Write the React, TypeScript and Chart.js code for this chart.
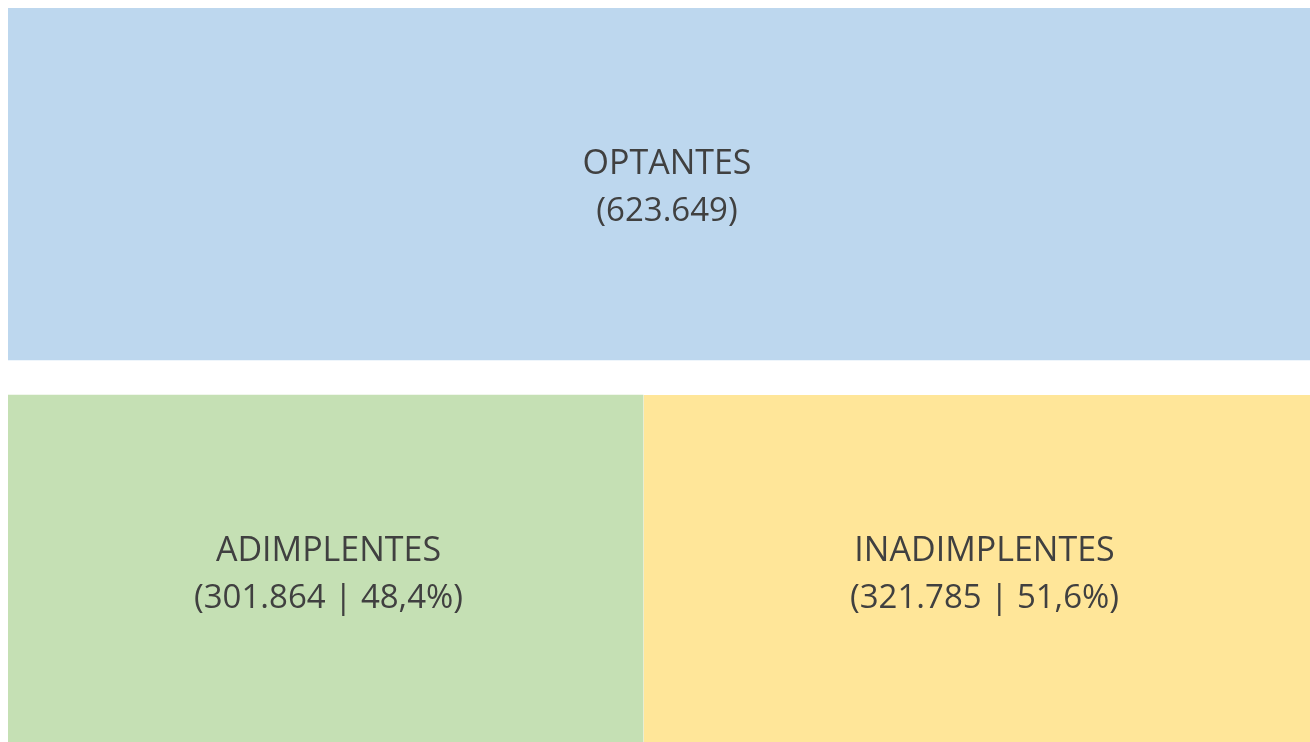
import React, { useEffect, useRef } from "react";
import { Chart, registerables } from "chart.js";

Chart.register(...registerables);

const rowLabels = ["OPTANTES", "ADIMPLENTES | INADIMPLENTES"];
const optantes = [623649, null];
const adimplentes = [null, 301864];
const inadimplentes = [null, 321785];
const segmentNames = ["OPTANTES", "ADIMPLENTES", "INADIMPLENTES"];
const total = 623649;

const fmtInt = (v: number) => v.toLocaleString("pt-BR");
const fmtPct = (v: number) =>
  (v * 100).toLocaleString("pt-BR", { minimumFractionDigits: 1, maximumFractionDigits: 1 }) + "%";

const labelPlugin = {
  id: "boxLabels",
  afterDatasetsDraw(chart: any) {
    const ctx = chart.ctx;
    const area = chart.chartArea;
    ctx.save();
    ctx.fillStyle = "#404040";
    ctx.textAlign = "center";
    ctx.textBaseline = "middle";
    chart.data.datasets.forEach((ds: any, di: number) => {
      const meta = chart.getDatasetMeta(di);
      meta.data.forEach((el: any, i: number) => {
        const v = ds.data[i];
        if (v == null) return;
        const p = el.getProps(["x", "y", "base", "height"], true);
        const top = Math.max(p.y - p.height / 2, area.top);
        const bottom = Math.min(p.y + p.height / 2, area.bottom);
        const cx = (p.x + p.base) / 2 + 3;
        const cy = (top + bottom) / 2 + 4;
        const line2 =
          di === 0 ? `(${fmtInt(v)})` : `(${fmtInt(v)} | ${fmtPct(v / total)})`;
        ctx.font = "34px 'Open Sans'";
        ctx.fillText(segmentNames[di], cx, cy - 24);
        ctx.font = "33px 'Open Sans'";
        ctx.fillText(line2, cx, cy + 24);
      });
    });
    ctx.restore();
  },
};

export default function App() {
  const ref = useRef<HTMLCanvasElement | null>(null);
  useEffect(() => {
    if (!ref.current) return;
    const chart = new Chart(ref.current, {
      type: "bar",
      data: {
        labels: rowLabels,
        datasets: [
          {
            label: "Optantes",
            data: optantes,
            backgroundColor: "#BDD7EE",
            borderWidth: 0,
          },
          {
            label: "Adimplentes",
            data: adimplentes,
            backgroundColor: "#C5E0B4",
            borderWidth: 0,
          },
          {
            label: "Inadimplentes",
            data: inadimplentes,
            backgroundColor: "#FFE699",
            borderWidth: { left: 1, right: 0, top: 0, bottom: 0 },
            borderColor: "rgba(255,255,255,0.55)",
            borderSkipped: false,
          },
        ] as any,
      },
      options: {
        indexAxis: "y",
        animation: false,
        responsive: true,
        maintainAspectRatio: false,
        events: [],
        layout: { padding: 0 },
        datasets: { bar: { barThickness: 704 } } as any,
        plugins: { legend: { display: false }, tooltip: { enabled: false } },
        scales: {
          x: { display: false, stacked: true, min: 0, max: total },
          y: { display: false, stacked: true, offset: false },
        },
      },
      plugins: [labelPlugin],
    });
    return () => chart.destroy();
  }, []);
  return (
    <div
      style={{
        position: "absolute",
        top: 8,
        left: 8,
        width: 1302,
        height: 734,
        overflow: "hidden",
      }}
    >
      <div style={{ position: "relative", width: 1312, height: 739 }}>
        <canvas ref={ref} />
      </div>
    </div>
  );
}
